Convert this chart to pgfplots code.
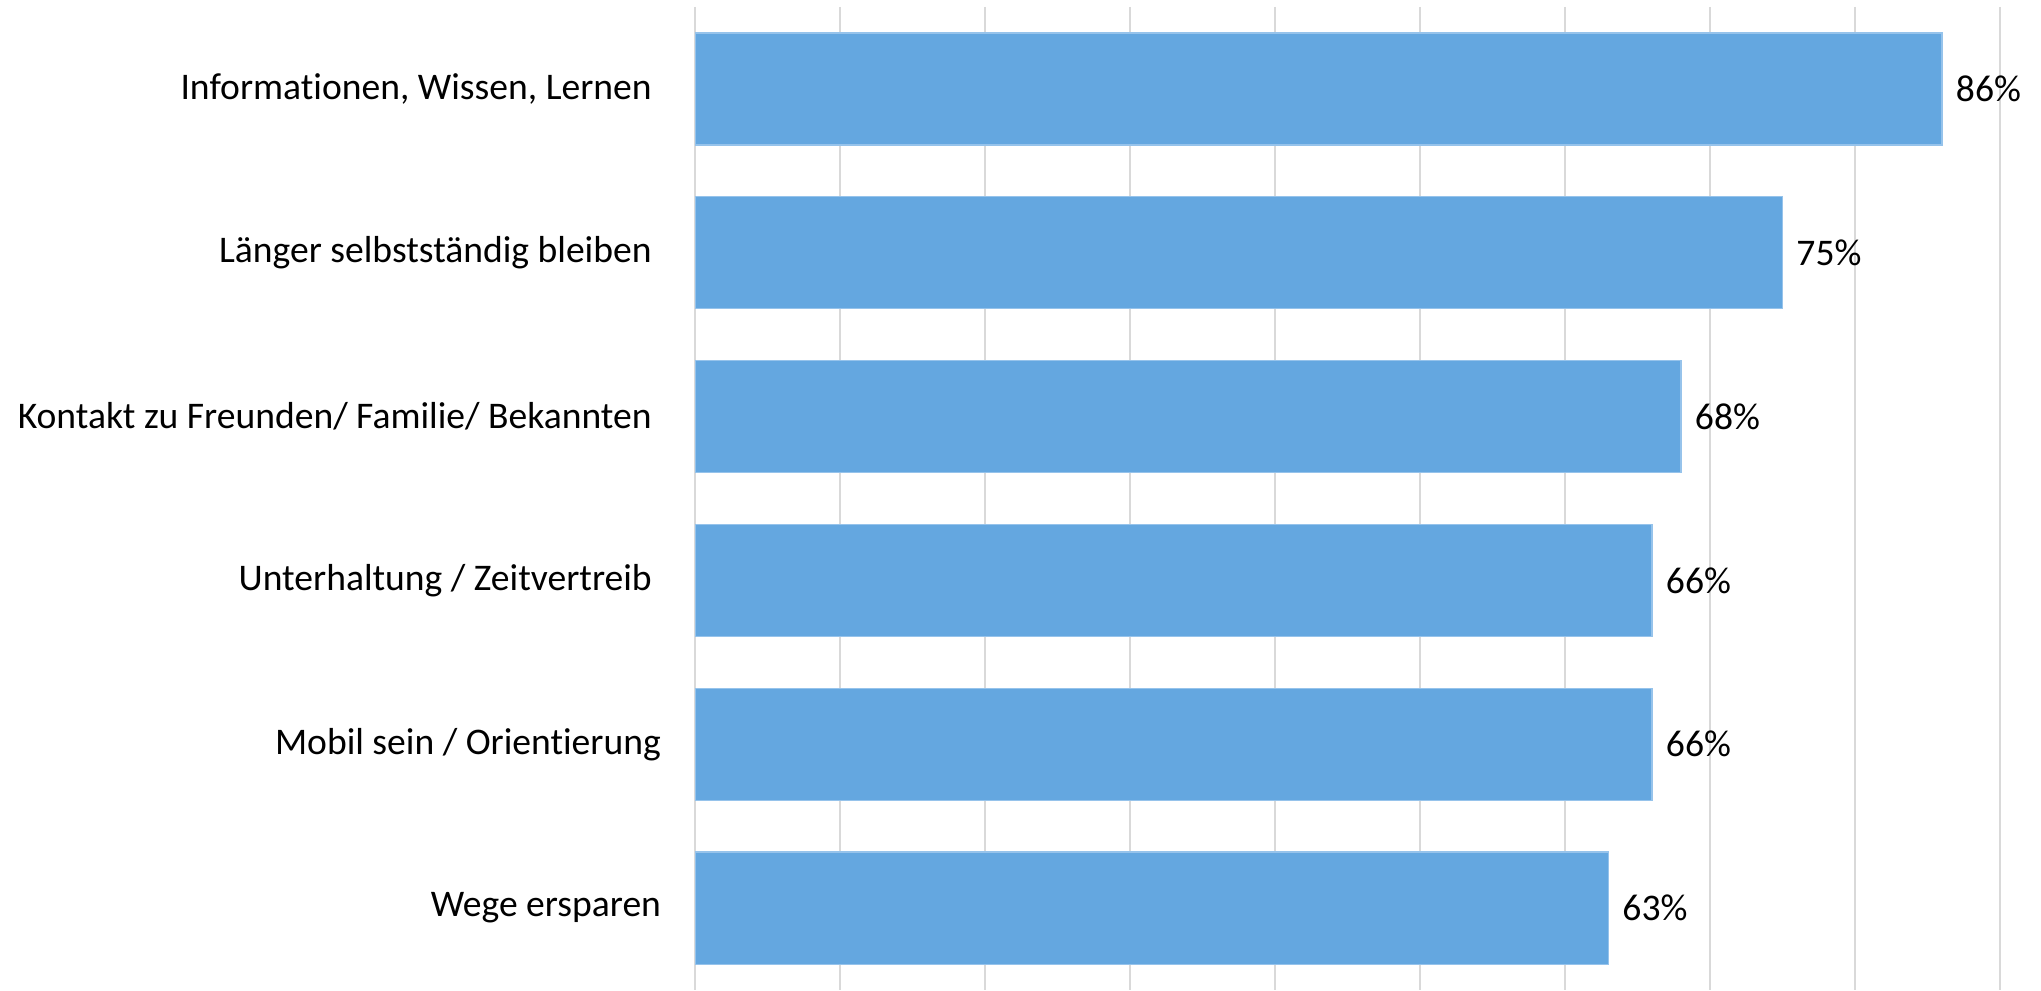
\documentclass[border=0pt]{standalone}
\usepackage{fontspec}
\setmainfont{Carlito}[Ligatures={NoCommon}]
\usepackage{pgfplots}
\pgfplotsset{compat=1.18}
\definecolor{barblue}{RGB}{100,167,224}
\definecolor{baredge}{RGB}{150,195,235}
\definecolor{gridgray}{RGB}{217,217,217}
\newcommand{\trail}{\hspace*{2.3pt}}
\begin{document}
\begin{tikzpicture}
\begin{axis}[
    xbar,
    scale only axis,
    width=326.25pt,
    height=245.75pt,
    xmin=0, xmax=90,
    ymin=-0.5, ymax=5.5,
    y dir=reverse,
    bar width=28pt,
    xtick={0,10,...,90},
    xticklabels={},
    ytick={0,1,2,3,4,5},
    yticklabels={
        {Informationen, Wissen, Lernen\trail},
        {Länger selbstständig bleiben\trail},
        {Kontakt zu Freunden/ Familie/ Bekannten\trail},
        {Unterhaltung / Zeitvertreib\trail},
        {Mobil sein / Orientierung},
        {Wege ersparen}
    },
    major tick length=0pt,
    yticklabel style={font=\fontsize{9.4}{11}\selectfont, xshift=-5pt},
    xmajorgrids,
    grid style={gridgray, line width=0.45pt},
    axis line style={draw=none},
    nodes near coords={\pgfmathprintnumber[assume math mode=true]{\pgfplotspointmeta}\%},
    nodes near coords style={font=\fontsize{9.4}{11}\selectfont, black},
]
\addplot[fill=barblue, draw=baredge, line width=0.3pt] coordinates {
    (86,0)
    (75,1)
    (68,2)
    (66,3)
    (66,4)
    (63,5)
};
\end{axis}
\pgfresetboundingbox
\path[use as bounding box] (current axis.south west) ++(-173.75pt,0pt)
    rectangle ([shift={(10.25pt,1.75pt)}]current axis.north east);
\end{tikzpicture}
\end{document}
